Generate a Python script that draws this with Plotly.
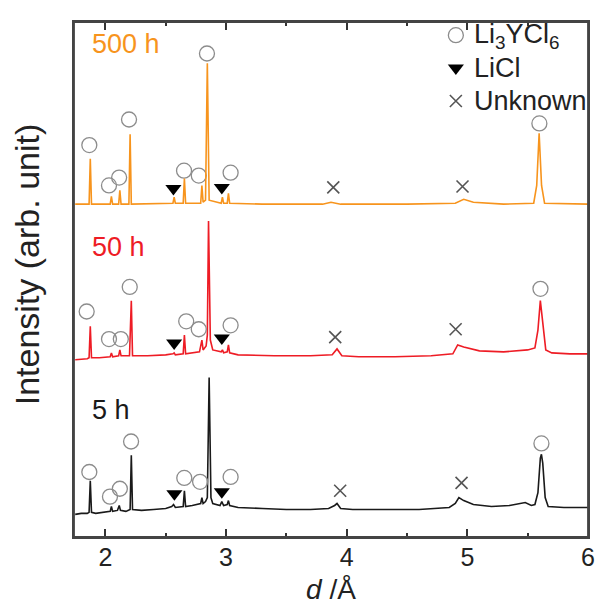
import plotly.graph_objects as go

# ---------------- data ----------------
# Offsets of the three stacked patterns (arb. units)
offset_5h, offset_50h, offset_500h = 20, 180, 337

d_5h = [1.75, 1.80, 1.85, 1.865, 1.875, 1.885, 1.92, 1.98, 2.04, 2.05, 2.06, 2.10, 2.115, 2.125,
        2.17, 2.205, 2.215, 2.225, 2.30, 2.40, 2.50, 2.55, 2.565, 2.58, 2.63, 2.645, 2.655, 2.665,
        2.72, 2.79, 2.80, 2.81, 2.83, 2.845, 2.86, 2.875, 2.89, 2.95, 2.965, 2.98, 3.01, 3.02, 3.03,
        3.10, 3.30, 3.50, 3.70, 3.85, 3.90, 3.92, 3.95, 4.05, 4.30, 4.60, 4.85, 4.90, 4.93, 4.97,
        5.05, 5.20, 5.35, 5.45, 5.48, 5.53, 5.56, 5.585, 5.605, 5.614, 5.625, 5.645, 5.67, 5.80, 6.0]
i_5h = [3, 4, 4, 5, 37, 5, 4, 5, 6, 11, 6, 7, 12, 7,
        6, 8, 63, 8, 7, 8, 9, 11, 13, 10, 11, 11, 27, 11,
        12, 14, 20, 14, 16, 20, 142, 20, 14, 12, 16, 12, 13, 17, 12,
        10, 9, 8, 8, 9, 12, 14, 9, 8, 8, 8, 10, 14, 20, 17,
        13, 11, 12, 14, 15, 12, 13, 25, 60, 64, 55, 20, 11, 10, 10]

d_50h = [1.75, 1.85, 1.865, 1.875, 1.885, 1.95, 2.04, 2.05, 2.06, 2.11, 2.12, 2.13, 2.20, 2.215,
         2.225, 2.35, 2.50, 2.56, 2.57, 2.58, 2.645, 2.655, 2.665, 2.78, 2.80, 2.81, 2.835, 2.845,
         2.855, 2.87, 2.89, 2.96, 2.97, 2.98, 3.01, 3.02, 3.03, 3.10, 3.40, 3.70, 3.88, 3.92, 3.96,
         4.10, 4.40, 4.70, 4.88, 4.92, 4.97, 5.10, 5.30, 5.50, 5.56, 5.585, 5.605, 5.625, 5.65,
         5.70, 5.85, 6.0]
i_50h = [0, 1, 2, 34, 2, 2, 3, 7, 3, 4, 10, 4, 4, 60,
         4, 4, 5, 6, 7, 5, 6, 25, 6, 8, 20, 10, 14, 25,
         141, 20, 10, 8, 10, 7, 8, 15, 7, 5, 4, 4, 5, 11, 4,
         3, 3, 4, 6, 15, 13, 9, 8, 10, 12, 30, 60, 35, 10,
         7, 6, 6]

d_500h = [1.75, 1.865, 1.875, 1.885, 2.04, 2.05, 2.06, 2.11, 2.12, 2.13, 2.195, 2.205, 2.215,
          2.56, 2.57, 2.58, 2.645, 2.655, 2.665, 2.79, 2.80, 2.81, 2.83, 2.845, 2.86, 2.96, 2.97,
          2.98, 3.01, 3.02, 3.03, 3.30, 3.80, 3.87, 3.95, 4.50, 4.90, 4.97, 5.05, 5.30, 5.55,
          5.575, 5.595, 5.615, 5.64, 6.0]
i_500h = [1, 1, 47, 1, 1, 9, 1, 1, 15, 1, 1, 72, 1,
          2, 8, 2, 2, 27, 2, 2, 20, 3, 5, 144, 5, 2, 8,
          2, 2, 12, 2, 1, 1, 3, 1, 1, 2, 6, 3, 1, 2,
          20, 73, 20, 2, 1]

# Phase marks (d, height above each pattern's baseline)
circ_d_5h = [1.867, 2.038, 2.12, 2.213, 2.654, 2.785, 3.038, 5.614]
circ_i_5h = [46, 21, 29, 77, 40, 36, 41, 75]
tri_d_5h = [2.572, 2.965]
tri_i_5h = [24, 26]
x_d_5h = [3.946, 4.952]
x_i_5h = [27, 35]

circ_d_50h = [1.845, 2.03, 2.128, 2.202, 2.67, 2.774, 3.038, 5.606]
circ_i_50h = [49, 21, 21, 74, 39, 31, 35, 72]
tri_d_50h = [2.57, 2.965]
tri_i_50h = [17, 22]
x_d_50h = [3.905, 4.903]
x_i_50h = [23, 31]

circ_d_500h = [1.867, 2.03, 2.114, 2.196, 2.652, 2.774, 2.842, 3.038, 5.597]
circ_i_500h = [61, 20, 28, 87, 35, 30, 154, 33, 83]
tri_d_500h = [2.564, 2.965]
tri_i_500h = [17, 18]
x_d_500h = [3.889, 4.96]
x_i_500h = [18, 19]

labels = ["5 h", "50 h", "500 h"]
label_y = [109, 115, 164]   # label height above each baseline
legend_names = ["Li<sub>3</sub>YCl<sub>6</sub>", "LiCl", "Unknown"]
x_ticks = [2, 3, 4, 5, 6]

# ---------------- style ----------------
FONT = "Arial, Liberation Sans, sans-serif"
COL = ["#1a1a1a", "#ee1c25", "#f7941d"]
GRAY = "#8c8c8c"
TXT = "#222222"
FRAME = "#444444"

fig = go.Figure()

patterns = [
    (d_5h, i_5h, offset_5h, circ_d_5h, circ_i_5h, tri_d_5h, tri_i_5h, x_d_5h, x_i_5h),
    (d_50h, i_50h, offset_50h, circ_d_50h, circ_i_50h, tri_d_50h, tri_i_50h, x_d_50h, x_i_50h),
    (d_500h, i_500h, offset_500h, circ_d_500h, circ_i_500h, tri_d_500h, tri_i_500h, x_d_500h, x_i_500h),
]

for k, (dd, ii, off, cd, ci, td, ti, xd, xi) in enumerate(patterns):
    # the top pattern is drawn on the mirrored (top) x axis so that axis gets its ticks
    fig.add_trace(go.Scatter(x=dd, y=[v + off for v in ii], mode="lines",
                             line=dict(color=COL[k], width=1.6), showlegend=False,
                             hoverinfo="skip", xaxis="x2" if k == 2 else "x"))
    fig.add_trace(go.Scatter(x=cd, y=[v + off for v in ci], mode="markers",
                             marker=dict(symbol="circle-open", size=15, color=GRAY,
                                         line=dict(width=1.3, color=GRAY)),
                             name=" ", legendgroup="a",
                             showlegend=(k == 0), hoverinfo="skip"))
    fig.add_trace(go.Scatter(x=td, y=[v + off for v in ti], mode="markers",
                             marker=dict(symbol="triangle-down", size=14, color="black"),
                             name=" ", legendgroup="b", showlegend=(k == 0),
                             hoverinfo="skip"))
    fig.add_trace(go.Scatter(x=xd, y=[v + off for v in xi], mode="markers",
                             marker=dict(symbol="x-thin", size=12, color=GRAY,
                                         line=dict(width=1.6, color="#555555")),
                             name=" ", legendgroup="c", showlegend=(k == 0),
                             hoverinfo="skip"))
    fig.add_annotation(x=1.87, y=off + label_y[k], text=labels[k], showarrow=False,
                       xanchor="left", yanchor="middle",
                       font=dict(family=FONT, size=27, color=COL[k]))

# legend texts (the native legend draws the keys)
legend_rows_y = [0.973, 0.910, 0.847]
for name, yy in zip(legend_names, legend_rows_y):
    fig.add_annotation(xref="paper", yref="paper", x=0.774, y=yy, text=name,
                       showarrow=False, xanchor="left", yanchor="middle",
                       font=dict(family=FONT, size=27, color=TXT))

# y-axis title
fig.add_annotation(xref="paper", yref="paper", x=-0.0914, y=0.5296,
                   text="Intensity (arb. unit)", textangle=-90, showarrow=False,
                   xanchor="center", yanchor="middle",
                   font=dict(family=FONT, size=34, color=TXT))

# plot frame
fig.add_shape(type="rect", xref="paper", yref="paper", x0=0, y0=0, x1=1, y1=1,
              line=dict(color=FRAME, width=1.8), layer="above")

minor_ticks = dict(dtick=0.5, ticks="inside", ticklen=4, tickwidth=1.5, tickcolor="#333")

fig.update_layout(
    width=588, height=597,
    margin=dict(l=66, r=8, t=6, b=68),
    paper_bgcolor="white", plot_bgcolor="white",
    font=dict(family=FONT, color=TXT),
    legend=dict(x=0.704, y=1.016, xanchor="left", yanchor="top",
                font=dict(family=FONT, size=23, color=TXT),
                bgcolor="rgba(0,0,0,0)", tracegroupgap=0, itemsizing="trace"),
    xaxis=dict(range=[1.74, 6.0], tickvals=x_ticks, ticks="inside", ticklen=8,
               tickwidth=1.5, tickcolor="#333", showline=True, linecolor=FRAME,
               linewidth=1.8, mirror=True, showgrid=False, zeroline=False,
               automargin=False, ticklabelstandoff=-3, ticklabeloverflow="allow",
               tickfont=dict(family=FONT, size=25, color=TXT),
               minor=minor_ticks,
               title=dict(text="<i>d</i> /Å", font=dict(family=FONT, size=28, color=TXT),
                          standoff=13)),
    xaxis2=dict(overlaying="x", matches="x", side="top", anchor="y",
                tickvals=x_ticks, ticks="inside", ticklen=8, tickwidth=1.5,
                tickcolor="#333", showticklabels=False, showline=False,
                showgrid=False, zeroline=False, automargin=False, minor=minor_ticks),
    yaxis=dict(range=[0, 523], showticklabels=False, ticks="", showline=True,
               linecolor=FRAME, linewidth=1.8, mirror=True, showgrid=False,
               zeroline=False, automargin=False),
)

fig.write_html("out.html")
